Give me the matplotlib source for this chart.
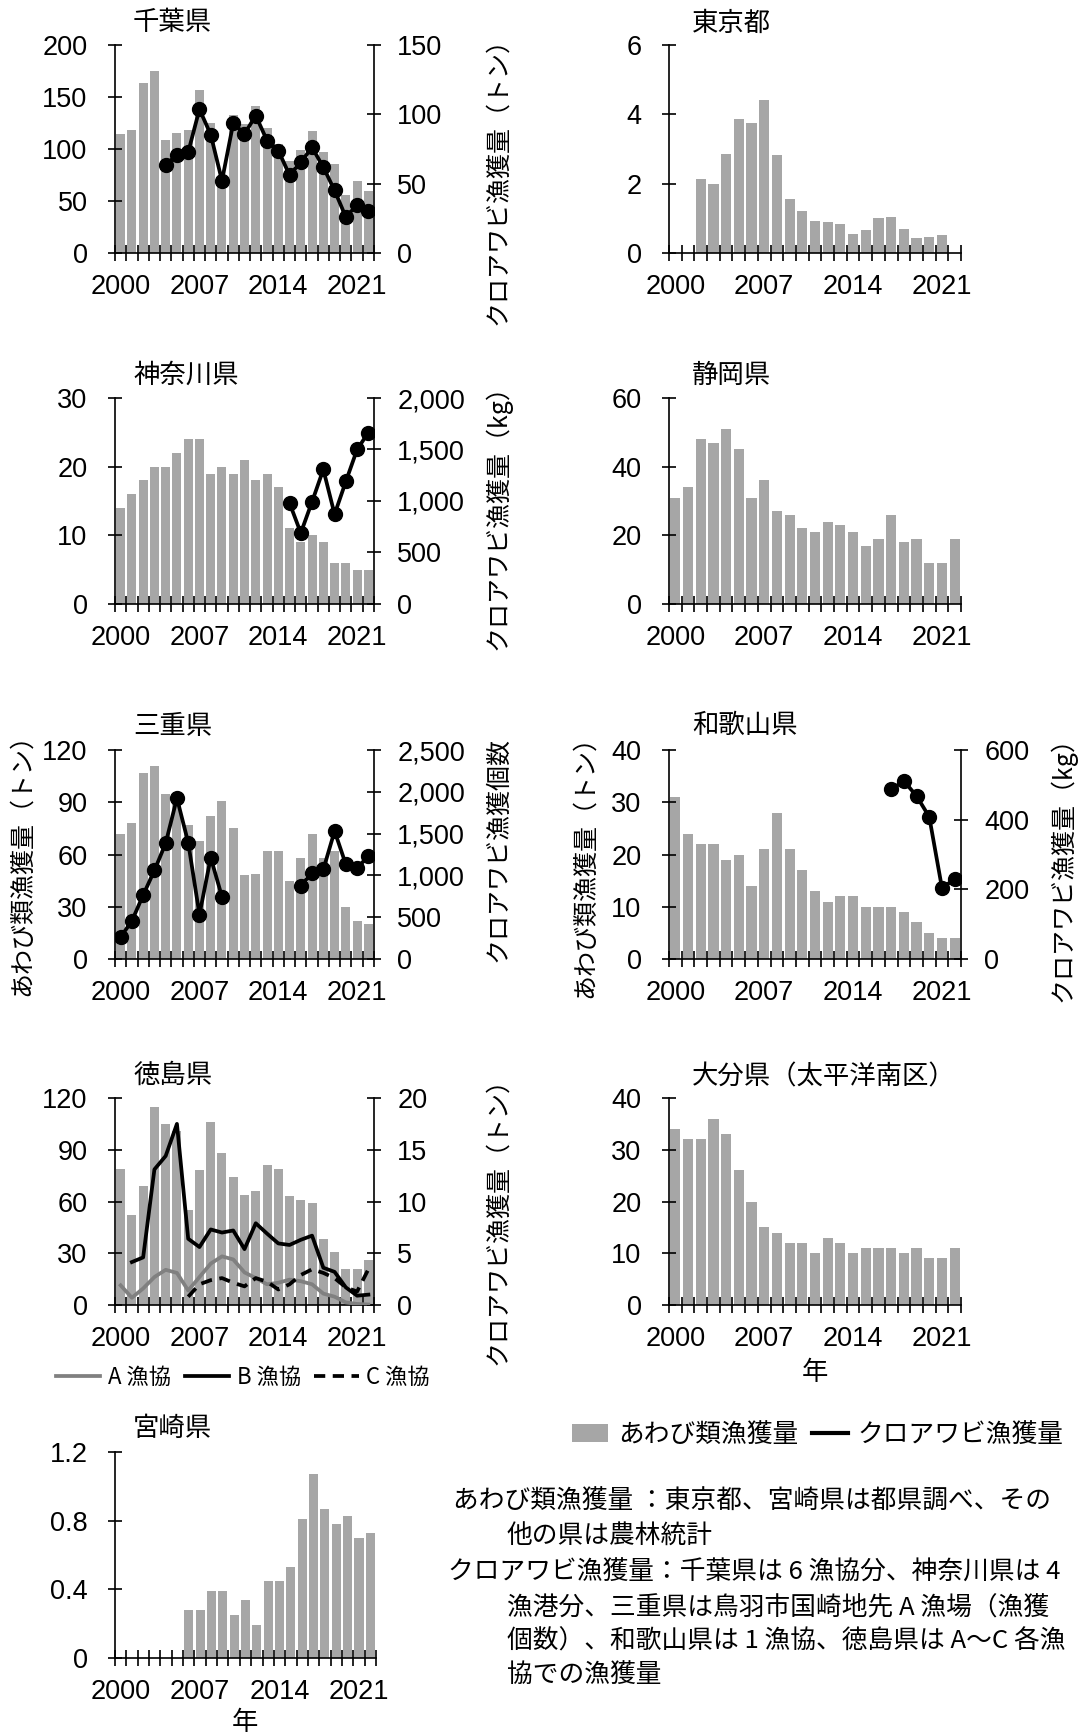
import numpy as np
import matplotlib
matplotlib.use('Agg')
import matplotlib.pyplot as plt
from matplotlib.lines import Line2D
from matplotlib.patches import Patch
from matplotlib.ticker import FuncFormatter

plt.rcParams['font.family'] = ['Liberation Sans', 'Noto Sans CJK JP']
JP = ['Noto Sans CJK JP', 'Liberation Sans']

# 年と各県の漁獲量（None は欠測）
years = list(range(2000, 2023))
year_labels = ['2000', '2007', '2014', '2021']

chiba_awabi = [114, 118, 163, 175, 109, 115, 118, 157, 125, 70, 133, 124, 141,
               120, 105, 88, 99, 117, 97, 86, 56, 69, 60]
chiba_kuro = [None, None, None, None, 63.6, 70.8, 72.7, 103.7, 85.4, 52.1, 93.6,
              85.9, 99.1, 81.1, 73.9, 56.2, 65.5, 76.1, 61.9, 45.1, 25.9, 34.8, 30.0]

tokyo_awabi = [None, None, 2.13, 2.0, 2.86, 3.86, 3.75, 4.42, 2.83, 1.55, 1.2,
               0.93, 0.89, 0.83, 0.55, 0.67, 1.02, 1.04, 0.70, 0.43, 0.47, 0.53, None]

kanagawa_awabi = [14, 16, 18, 20, 20, 22, 24, 24, 19, 20, 19, 21, 18, 19, 17,
                  11, 9, 10, 9, 6, 6, 5, 5]
kanagawa_kuro = [None] * 15 + [980, 690, 993, 1306, 871, 1190, 1500, 1665]

shizuoka_awabi = [31, 34, 48, 47, 51, 45, 31, 36, 27, 26, 22, 21, 24, 23, 21,
                  17, 19, 26, 18, 19, 12, 12, 19]

mie_awabi = [72, 78, 107, 111, 95, 90, 77, 68, 82, 91, 75, 48, 49, 62, 62, 45,
             58, 72, 58, 62, 30, 22, 20]
mie_kuro = [262, 455, 765, 1059, 1385, 1924, 1393, 531, 1212, 745, None, None,
            None, None, None, None, 878, 1027, 1071, 1530, 1131, 1091, 1228]

wakayama_awabi = [31, 24, 22, 22, 19, 20, 14, 21, 28, 21, 17, 13, 11, 12, 12,
                  10, 10, 10, 9, 7, 5, 4, 4]
wakayama_kuro = [None] * 17 + [487, 511, 468, 408, 204, 229]

tokushima_awabi = [79, 52, 69, 115, 105, 101, 55, 78, 106, 88, 74, 64, 66, 81,
                   79, 63, 61, 59, 38, 31, 21, 21, 26]
tokushima_a = [1.9, 0.7, 1.6, 2.7, 3.4, 3.1, 1.4, 2.7, 4.0, 4.7, 4.4, 3.15, 2.6,
               2.0, 2.15, 2.45, 2.3, 2.0, 1.1, 0.8, 0.25, 0.1, 0.05]
tokushima_b = [None, 4.15, 4.6, 13.1, 14.4, 17.5, 6.4, 5.6, 7.3, 7.0, 7.2, 5.4,
               7.9, 6.9, 5.95, 5.8, 6.3, 6.7, 3.6, 3.2, 1.7, 0.9, 1.0]
tokushima_c = [None] * 6 + [0.8, 2.0, 2.4, 2.6, 2.15, 1.8, 2.6, 2.25, 1.5, 2.0,
                            2.9, 3.45, 3.1, 2.6, 1.7, 1.3, 3.45]

oita_awabi = [34, 32, 32, 36, 33, 26, 20, 15, 14, 12, 12, 10, 13, 12, 10, 11,
              11, 11, 10, 11, 9, 9, 11]

miyazaki_awabi = [None] * 6 + [0.28, 0.28, 0.39, 0.39, 0.25, 0.34, 0.19, 0.45,
                               0.45, 0.53, 0.81, 1.07, 0.87, 0.78, 0.83, 0.70, 0.73]

BAR = '#a6a6a6'
W, H = 1084, 1735
FS = 19.5

fig = plt.figure(figsize=(W / 100, H / 100), dpi=100)
x = np.arange(len(years))


def arr(v):
    return np.array([np.nan if a is None else a for a in v], dtype=float)


def make_axes(l, t, r, b):
    return fig.add_axes([l / W, 1 - b / H, (r - l) / W, (b - t) / H])


def style(ax, ymax, step, fmt=None):
    ax.set_xlim(-0.5, len(years) - 0.5)
    ax.set_ylim(0, ymax)
    ax.set_yticks(np.arange(0, ymax + step / 2, step))
    if fmt:
        ax.yaxis.set_major_formatter(FuncFormatter(fmt))
    ax.set_xticks([years.index(int(y)) for y in year_labels])
    ax.set_xticklabels(year_labels)
    ax.set_xticks(np.arange(-0.5, len(years), 1), minor=True)
    ax.tick_params(axis='x', which='major', length=0, pad=15, labelsize=FS)
    ax.tick_params(axis='x', which='minor', length=11, width=1.2, direction='inout')
    ax.tick_params(axis='y', length=9.5, width=1.2, direction='inout', pad=15,
                   labelsize=FS)
    for s in ['top', 'right']:
        ax.spines[s].set_visible(False)
    for s in ['left', 'bottom']:
        ax.spines[s].set_linewidth(1.2)


def twin(ax, ymax, step, fmt=None):
    ax2 = ax.twinx()
    ax2.set_ylim(0, ymax)
    ax2.set_yticks(np.arange(0, ymax + step / 2, step))
    if fmt:
        ax2.yaxis.set_major_formatter(FuncFormatter(fmt))
    ax2.tick_params(axis='y', length=9.5, width=1.2, direction='inout', pad=12,
                    labelsize=FS)
    for s in ['top', 'left', 'bottom']:
        ax2.spines[s].set_visible(False)
    ax2.spines['right'].set_linewidth(1.2)
    return ax2


def bars(ax, vals):
    ax.bar(x, arr(vals), width=0.8, color=BAR, linewidth=0)


def kuro(ax2, vals):
    ax2.plot(x, arr(vals), color='black', lw=2.7, marker='o', ms=10)


comma = lambda v, p: f'{v:,.0f}'
LT, LR = 115, 374
RT, RR = 669, 961
rows = [(45, 253), (398, 604), (750, 959), (1098, 1305), (1452, 1658)]

# 千葉県
ax = make_axes(LT, rows[0][0], LR, rows[0][1])
style(ax, 200, 50)
bars(ax, chiba_awabi)
ax2 = twin(ax, 150, 50)
kuro(ax2, chiba_kuro)

# 東京都
ax = make_axes(RT, rows[0][0], RR, rows[0][1])
style(ax, 6, 2)
bars(ax, tokyo_awabi)

# 神奈川県
ax = make_axes(LT, rows[1][0], LR, rows[1][1])
style(ax, 30, 10)
bars(ax, kanagawa_awabi)
ax2 = twin(ax, 2000, 500, comma)
kuro(ax2, kanagawa_kuro)

# 静岡県
ax = make_axes(RT, rows[1][0], RR, rows[1][1])
style(ax, 60, 20)
bars(ax, shizuoka_awabi)

# 三重県
ax = make_axes(LT, rows[2][0], LR, rows[2][1])
style(ax, 120, 30)
bars(ax, mie_awabi)
ax2 = twin(ax, 2500, 500, comma)
kuro(ax2, mie_kuro)

# 和歌山県
ax = make_axes(RT, rows[2][0], RR, rows[2][1])
style(ax, 40, 10)
bars(ax, wakayama_awabi)
ax2 = twin(ax, 600, 200)
kuro(ax2, wakayama_kuro)

# 徳島県（漁協別）
ax = make_axes(LT, rows[3][0], LR, rows[3][1])
style(ax, 120, 30)
bars(ax, tokushima_awabi)
ax2 = twin(ax, 20, 5)
la, = ax2.plot(x, arr(tokushima_a), color='#808080', lw=2.7)
lb, = ax2.plot(x, arr(tokushima_b), color='black', lw=2.7)
lc, = ax2.plot(x, arr(tokushima_c), color='black', lw=2.7, ls=(0, (3, 2)))
ax2.legend([la, lb, lc], ['A 漁協', 'B 漁協', 'C 漁協'], loc='center',
           bbox_to_anchor=(243 / W, 1 - 1377 / H), bbox_transform=fig.transFigure,
           ncol=3, frameon=False, handlelength=2.0, handletextpad=0.35,
           columnspacing=0.6, prop={'family': JP, 'size': 16})

# 大分県
ax = make_axes(RT, rows[3][0], RR, rows[3][1])
style(ax, 40, 10)
bars(ax, oita_awabi)

# 宮崎県
ax = make_axes(LT, rows[4][0], LR + 2, rows[4][1])
style(ax, 1.2, 0.4, lambda v, p: '0' if v == 0 else f'{v:.1f}')
bars(ax, miyazaki_awabi)

# 県名
for tx, ty, name in [(133, 22, '千葉県'), (692, 23, '東京都'),
                     (133, 375, '神奈川県'), (692, 375, '静岡県'),
                     (133, 726, '三重県'), (692, 725, '和歌山県'),
                     (133, 1075, '徳島県'), (692, 1077, '大分県（太平洋南区）'),
                     (133, 1428, '宮崎県')]:
    fig.text(tx / W, 1 - ty / H, name, ha='left', va='center', family=JP, size=19)

# 軸ラベル
for tx, ty, txt in [(22, 858, 'あわび類漁獲量（トン）'), (585, 860, 'あわび類漁獲量（トン）'),
                    (498, 175, 'クロアワビ漁獲量（トン）'), (498, 511, 'クロアワビ漁獲量（kg）'),
                    (498, 849, 'クロアワビ漁獲個数'), (1063, 863, 'クロアワビ漁獲量（kg）'),
                    (498, 1215, 'クロアワビ漁獲量（トン）')]:
    fig.text(tx / W, 1 - ty / H, txt, rotation=90, ha='center', va='center',
             family=JP, size=18)

fig.text(815 / W, 1 - 1372 / H, '年', ha='center', va='center', family=JP, size=19)
fig.text(245 / W, 1 - 1722 / H, '年', ha='center', va='center', family=JP, size=19)

# 凡例
handles = [Patch(facecolor=BAR, edgecolor='none'), Line2D([], [], color='black', lw=3)]
fig.legend(handles, ['あわび類漁獲量', 'クロアワビ漁獲量'], loc='center',
           bbox_to_anchor=(818 / W, 1 - 1435 / H), ncol=2, frameon=False,
           handlelength=1.4, handletextpad=0.4, columnspacing=0.5,
           prop={'family': JP, 'size': 18.5})

# 注記
notes = [(453, 1502, 'あわび類漁獲量 ：東京都、宮崎県は都県調べ、その'),
         (507, 1537, '他の県は農林統計'),
         (448, 1573, 'クロアワビ漁獲量：千葉県は 6 漁協分、神奈川県は 4'),
         (507, 1608, '漁港分、三重県は鳥羽市国崎地先 A 漁場（漁獲'),
         (507, 1642, '個数）、和歌山県は 1 漁協、徳島県は A～C 各漁'),
         (507, 1675, '協での漁獲量')]
for tx, ty, txt in notes:
    fig.text(tx / W, 1 - ty / H, txt, ha='left', va='center', family=JP, size=18.5)

fig.savefig('out.png', dpi=100)
